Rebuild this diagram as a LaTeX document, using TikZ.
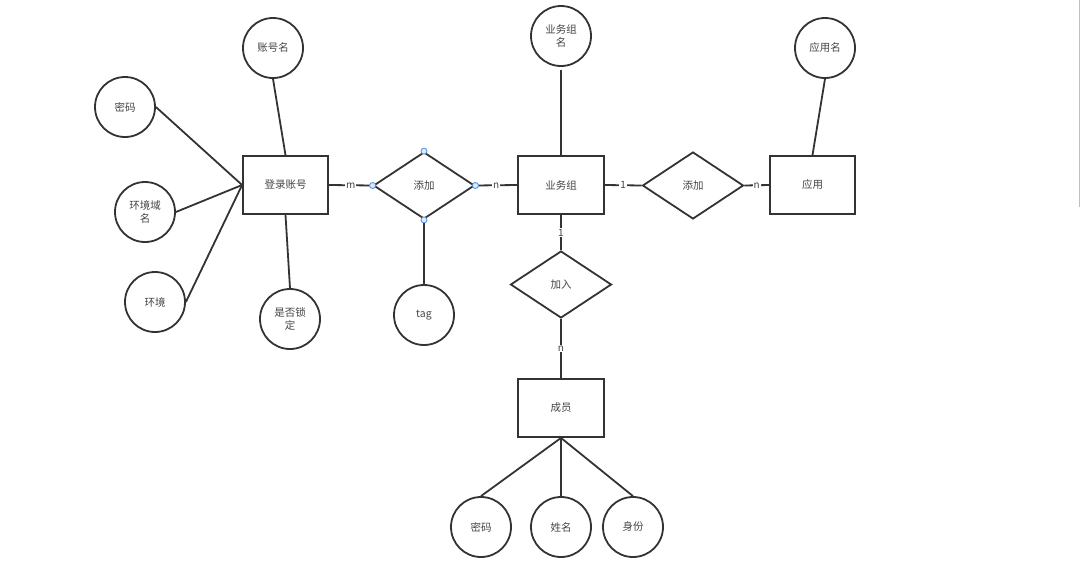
\documentclass[tikz,border=0pt]{standalone}
\usepackage{fontspec}
\setmainfont{Noto Sans CJK SC}
\usetikzlibrary{shapes.geometric}
\definecolor{ln}{HTML}{333333}
\definecolor{tx}{HTML}{444444}
\definecolor{hdl}{HTML}{4A90D9}
\definecolor{hdlfill}{HTML}{DCEBFA}
\tikzset{
  every node/.style={font=\fontsize{10.5}{13}\selectfont, text=tx},
  ent/.style={draw=ln, line width=1.8pt, rectangle, minimum width=85pt, minimum height=58pt, inner sep=0pt},
  attr/.style={draw=ln, line width=1.8pt, circle, minimum size=60pt, inner sep=0pt, align=center},
  rel/.style={draw=ln, line width=1.8pt, diamond, minimum width=101pt, minimum height=67pt, inner sep=0pt},
  conn/.style={draw=ln, line width=1.8pt},
  card/.style={fill=white, inner sep=1pt, font=\fontsize{10}{12}\selectfont},
  handle/.style={circle, draw=hdl, fill=hdlfill, line width=0.8pt, minimum size=6pt, inner sep=0pt}
}
\begin{document}
\begin{tikzpicture}[x=1pt, y=-1pt]
\useasboundingbox (0,0) rectangle (1080,576);
% entities
\node[ent] (login) at (285.5,185) {登录账号};
\node[ent, minimum width=86pt] (grp) at (561,185) {业务组};
\node[ent] (app) at (812.5,185) {应用};
\node[ent, minimum width=86pt] (member) at (561,408) {成员};
% relations
\node[rel] (add1) at (424,185.5) {添加};
\node[rel] (add2) at (693,185.5) {添加};
\node[rel] (join) at (561,284.5) {加入};
% attributes
\node[attr] (acct) at (273,48) {账号名};
\node[attr] (pw) at (125,107) {密码};
\node[attr] (envdom) at (145,212) {环境域\\名};
\node[attr] (env) at (155,302) {环境};
\node[attr] (lock) at (290,319) {是否锁\\定};
\node[attr] (tag) at (424,315) {tag};
\node[attr] (grpname) at (561,36) {业务组\\名};
\node[attr] (appname) at (825,48) {应用名};
\node[attr] (pw2) at (481,527) {密码};
\node[attr] (name) at (561,527) {姓名};
\node[attr] (role) at (633,527) {身份};
% attribute connectors
\draw[conn] (acct.south) -- (login.north);
\draw[conn] (pw.east) -- (login.west);
\draw[conn] (envdom.east) -- (login.west);
\draw[conn] (env.east) -- (login.west);
\draw[conn] (login.south) -- (lock.north);
\draw[conn] (add1.south) -- (tag.north);
\draw[conn] ([yshift=-3pt]grpname.south) -- (grp.north);
\draw[conn] (appname.south) -- (app.north);
\draw[conn] (member.south) -- (pw2.north);
\draw[conn] (member.south) -- (name.north);
\draw[conn] (member.south) -- (role.north);
% relationship connectors with cardinalities
\draw[conn] (login.east) -- node[card] {m} (add1.west);
\draw[conn] (add1.east) -- node[card] {n} (grp.west);
\draw[conn] (grp.east) -- node[card] {1} (add2.west);
\draw[conn] (add2.east) -- node[card] {n} (app.west);
\draw[conn] (grp.south) -- node[card] {1} (join.north);
\draw[conn] (join.south) -- node[card] {n} (member.north);
% selection handles
\node[handle] (h1) at (add1.west) {};
\node[handle] (h2) at (add1.north) {};
\node[handle] (h3) at (add1.east) {};
\node[handle] (h4) at (add1.south) {};
% right edge line
\coordinate (e1) at (1079,0);
\coordinate (e2) at (1079,207);
\draw[black!25, line width=1pt] (e1) -- (e2);
\end{tikzpicture}
\end{document}
